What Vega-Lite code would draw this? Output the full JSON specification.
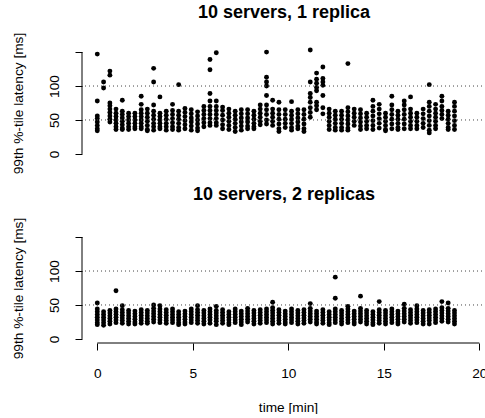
{
  "$schema": "https://vega.github.io/schema/vega-lite/v6.json",
  "background": "white",
  "padding": {"left": 10, "top": 4, "right": 0, "bottom": 0},
  "spacing": 12,
  "config": {
    "view": {"stroke": null},
    "font": "Liberation Sans",
    "axis": {"labelFontSize": 13.7, "titleFontSize": 13.7, "labelColor": "black", "titleColor": "black", "tickColor": "black", "titleFontWeight": "normal"}
  },
  "datasets": {
    "a": [
      {"t":0,"v":147},{"t":0,"v":78},{"t":0,"v":56},{"t":0,"v":52},{"t":0,"v":47},{"t":0,"v":42},{"t":0,"v":37},{"t":0,"v":34},
      {"t":0.33,"v":106},{"t":0.33,"v":97},
      {"t":0.66,"v":122},{"t":0.66,"v":116},{"t":0.66,"v":75},{"t":0.66,"v":71},{"t":0.66,"v":66},{"t":0.66,"v":61},{"t":0.66,"v":56},{"t":0.66,"v":51},{"t":0.66,"v":47},
      {"t":0.98,"v":66},{"t":0.98,"v":60},{"t":0.98,"v":55},{"t":0.98,"v":50},{"t":0.98,"v":45},{"t":0.98,"v":40},{"t":0.98,"v":36},
      {"t":1.31,"v":79},{"t":1.31,"v":63},{"t":1.31,"v":58},{"t":1.31,"v":53},{"t":1.31,"v":48},{"t":1.31,"v":43},{"t":1.31,"v":38},{"t":1.31,"v":36},
      {"t":1.64,"v":60},{"t":1.64,"v":55},{"t":1.64,"v":50},{"t":1.64,"v":45},{"t":1.64,"v":40},{"t":1.64,"v":36},
      {"t":1.97,"v":60},{"t":1.97,"v":55},{"t":1.97,"v":50},{"t":1.97,"v":45},{"t":1.97,"v":40},{"t":1.97,"v":37},
      {"t":2.3,"v":85},{"t":2.3,"v":73},{"t":2.3,"v":65},{"t":2.3,"v":60},{"t":2.3,"v":55},{"t":2.3,"v":50},{"t":2.3,"v":45},{"t":2.3,"v":40},{"t":2.3,"v":37},
      {"t":2.62,"v":66},{"t":2.62,"v":60},{"t":2.62,"v":54},{"t":2.62,"v":48},{"t":2.62,"v":42},{"t":2.62,"v":36},{"t":2.62,"v":34},
      {"t":2.95,"v":126},{"t":2.95,"v":106},{"t":2.95,"v":72},{"t":2.95,"v":63},{"t":2.95,"v":57},{"t":2.95,"v":51},{"t":2.95,"v":45},{"t":2.95,"v":40},{"t":2.95,"v":35},
      {"t":3.28,"v":84},{"t":3.28,"v":60},{"t":3.28,"v":55},{"t":3.28,"v":50},{"t":3.28,"v":45},{"t":3.28,"v":40},{"t":3.28,"v":37},
      {"t":3.61,"v":63},{"t":3.61,"v":57},{"t":3.61,"v":51},{"t":3.61,"v":45},{"t":3.61,"v":40},{"t":3.61,"v":35},
      {"t":3.94,"v":73},{"t":3.94,"v":64},{"t":3.94,"v":58},{"t":3.94,"v":52},{"t":3.94,"v":46},{"t":3.94,"v":40},{"t":3.94,"v":36},
      {"t":4.26,"v":102},{"t":4.26,"v":63},{"t":4.26,"v":57},{"t":4.26,"v":51},{"t":4.26,"v":45},{"t":4.26,"v":39},{"t":4.26,"v":35},
      {"t":4.59,"v":67},{"t":4.59,"v":61},{"t":4.59,"v":55},{"t":4.59,"v":49},{"t":4.59,"v":43},{"t":4.59,"v":37},
      {"t":4.92,"v":65},{"t":4.92,"v":59},{"t":4.92,"v":53},{"t":4.92,"v":47},{"t":4.92,"v":41},{"t":4.92,"v":35},
      {"t":5.25,"v":62},{"t":5.25,"v":56},{"t":5.25,"v":50},{"t":5.25,"v":44},{"t":5.25,"v":38},{"t":5.25,"v":34},
      {"t":5.58,"v":70},{"t":5.58,"v":64},{"t":5.58,"v":58},{"t":5.58,"v":52},{"t":5.58,"v":46},{"t":5.58,"v":40},
      {"t":5.9,"v":139},{"t":5.9,"v":124},{"t":5.9,"v":89},{"t":5.9,"v":78},{"t":5.9,"v":70},{"t":5.9,"v":64},{"t":5.9,"v":58},{"t":5.9,"v":52},{"t":5.9,"v":46},{"t":5.9,"v":42},
      {"t":6.23,"v":149},{"t":6.23,"v":78},{"t":6.23,"v":70},{"t":6.23,"v":64},{"t":6.23,"v":58},{"t":6.23,"v":52},{"t":6.23,"v":46},{"t":6.23,"v":42},
      {"t":6.56,"v":69},{"t":6.56,"v":64},{"t":6.56,"v":57},{"t":6.56,"v":50},{"t":6.56,"v":43},{"t":6.56,"v":37},
      {"t":6.89,"v":66},{"t":6.89,"v":60},{"t":6.89,"v":54},{"t":6.89,"v":48},{"t":6.89,"v":42},{"t":6.89,"v":36},
      {"t":7.22,"v":63},{"t":7.22,"v":57},{"t":7.22,"v":51},{"t":7.22,"v":45},{"t":7.22,"v":39},{"t":7.22,"v":33},
      {"t":7.54,"v":65},{"t":7.54,"v":59},{"t":7.54,"v":53},{"t":7.54,"v":47},{"t":7.54,"v":41},{"t":7.54,"v":35},
      {"t":7.87,"v":65},{"t":7.87,"v":59},{"t":7.87,"v":53},{"t":7.87,"v":47},{"t":7.87,"v":41},{"t":7.87,"v":37},
      {"t":8.2,"v":63},{"t":8.2,"v":57},{"t":8.2,"v":51},{"t":8.2,"v":45},{"t":8.2,"v":40},{"t":8.2,"v":37},
      {"t":8.53,"v":72},{"t":8.53,"v":66},{"t":8.53,"v":60},{"t":8.53,"v":54},{"t":8.53,"v":48},{"t":8.53,"v":43},
      {"t":8.86,"v":150},{"t":8.86,"v":113},{"t":8.86,"v":106},{"t":8.86,"v":100},{"t":8.86,"v":86},{"t":8.86,"v":72},{"t":8.86,"v":65},{"t":8.86,"v":58},{"t":8.86,"v":50},{"t":8.86,"v":44},
      {"t":9.18,"v":79},{"t":9.18,"v":66},{"t":9.18,"v":60},{"t":9.18,"v":54},{"t":9.18,"v":48},{"t":9.18,"v":42},
      {"t":9.51,"v":76},{"t":9.51,"v":65},{"t":9.51,"v":58},{"t":9.51,"v":51},{"t":9.51,"v":44},{"t":9.51,"v":37},{"t":9.51,"v":33},
      {"t":9.84,"v":65},{"t":9.84,"v":58},{"t":9.84,"v":51},{"t":9.84,"v":45},{"t":9.84,"v":39},
      {"t":10.17,"v":77},{"t":10.17,"v":63},{"t":10.17,"v":57},{"t":10.17,"v":51},{"t":10.17,"v":45},{"t":10.17,"v":39},{"t":10.17,"v":35},
      {"t":10.5,"v":65},{"t":10.5,"v":59},{"t":10.5,"v":53},{"t":10.5,"v":47},{"t":10.5,"v":41},{"t":10.5,"v":37},
      {"t":10.82,"v":65},{"t":10.82,"v":58},{"t":10.82,"v":51},{"t":10.82,"v":44},{"t":10.82,"v":37},{"t":10.82,"v":33},
      {"t":11.15,"v":153},{"t":11.15,"v":106},{"t":11.15,"v":89},{"t":11.15,"v":83},{"t":11.15,"v":76},{"t":11.15,"v":68},{"t":11.15,"v":61},{"t":11.15,"v":54},
      {"t":11.48,"v":119},{"t":11.48,"v":110},{"t":11.48,"v":104},{"t":11.48,"v":98},{"t":11.48,"v":93},{"t":11.48,"v":76},{"t":11.48,"v":71},{"t":11.48,"v":65},
      {"t":11.81,"v":128},{"t":11.81,"v":111},{"t":11.81,"v":106},{"t":11.81,"v":101},{"t":11.81,"v":86},{"t":11.81,"v":68},{"t":11.81,"v":59},
      {"t":12.14,"v":66},{"t":12.14,"v":60},{"t":12.14,"v":54},{"t":12.14,"v":48},{"t":12.14,"v":42},{"t":12.14,"v":36},
      {"t":12.46,"v":63},{"t":12.46,"v":57},{"t":12.46,"v":51},{"t":12.46,"v":45},{"t":12.46,"v":39},{"t":12.46,"v":35},
      {"t":12.79,"v":63},{"t":12.79,"v":57},{"t":12.79,"v":51},{"t":12.79,"v":45},{"t":12.79,"v":39},{"t":12.79,"v":35},
      {"t":13.12,"v":133},{"t":13.12,"v":68},{"t":13.12,"v":62},{"t":13.12,"v":56},{"t":13.12,"v":50},{"t":13.12,"v":44},{"t":13.12,"v":38},{"t":13.12,"v":35},
      {"t":13.45,"v":66},{"t":13.45,"v":60},{"t":13.45,"v":54},{"t":13.45,"v":48},{"t":13.45,"v":42},
      {"t":13.78,"v":65},{"t":13.78,"v":59},{"t":13.78,"v":53},{"t":13.78,"v":47},{"t":13.78,"v":41},{"t":13.78,"v":36},
      {"t":14.1,"v":60},{"t":14.1,"v":54},{"t":14.1,"v":48},{"t":14.1,"v":42},{"t":14.1,"v":37},
      {"t":14.43,"v":79},{"t":14.43,"v":70},{"t":14.43,"v":63},{"t":14.43,"v":56},{"t":14.43,"v":49},{"t":14.43,"v":42},{"t":14.43,"v":36},
      {"t":14.76,"v":73},{"t":14.76,"v":66},{"t":14.76,"v":59},{"t":14.76,"v":52},{"t":14.76,"v":45},{"t":14.76,"v":38},
      {"t":15.09,"v":60},{"t":15.09,"v":54},{"t":15.09,"v":48},{"t":15.09,"v":42},{"t":15.09,"v":36},{"t":15.09,"v":34},
      {"t":15.42,"v":85},{"t":15.42,"v":72},{"t":15.42,"v":65},{"t":15.42,"v":58},{"t":15.42,"v":51},{"t":15.42,"v":44},{"t":15.42,"v":37},
      {"t":15.74,"v":63},{"t":15.74,"v":57},{"t":15.74,"v":51},{"t":15.74,"v":45},{"t":15.74,"v":39},{"t":15.74,"v":36},
      {"t":16.07,"v":78},{"t":16.07,"v":72},{"t":16.07,"v":65},{"t":16.07,"v":58},{"t":16.07,"v":51},{"t":16.07,"v":44},{"t":16.07,"v":37},
      {"t":16.4,"v":84},{"t":16.4,"v":66},{"t":16.4,"v":60},{"t":16.4,"v":54},{"t":16.4,"v":48},{"t":16.4,"v":42},{"t":16.4,"v":37},
      {"t":16.73,"v":60},{"t":16.73,"v":54},{"t":16.73,"v":48},{"t":16.73,"v":42},{"t":16.73,"v":37},
      {"t":17.06,"v":66},{"t":17.06,"v":59},{"t":17.06,"v":52},{"t":17.06,"v":45},{"t":17.06,"v":39},
      {"t":17.38,"v":102},{"t":17.38,"v":76},{"t":17.38,"v":70},{"t":17.38,"v":63},{"t":17.38,"v":56},{"t":17.38,"v":49},{"t":17.38,"v":42},{"t":17.38,"v":35},{"t":17.38,"v":31},
      {"t":17.71,"v":73},{"t":17.71,"v":66},{"t":17.71,"v":60},{"t":17.71,"v":54},{"t":17.71,"v":48},{"t":17.71,"v":42},{"t":17.71,"v":37},
      {"t":18.04,"v":85},{"t":18.04,"v":78},{"t":18.04,"v":70},{"t":18.04,"v":64},{"t":18.04,"v":58},{"t":18.04,"v":52},
      {"t":18.37,"v":63},{"t":18.37,"v":57},{"t":18.37,"v":51},{"t":18.37,"v":45},{"t":18.37,"v":39},{"t":18.37,"v":36},
      {"t":18.7,"v":76},{"t":18.7,"v":70},{"t":18.7,"v":63},{"t":18.7,"v":56},{"t":18.7,"v":49},{"t":18.7,"v":42},{"t":18.7,"v":36}
    ],
    "b": [
      {"t":0,"v":53},{"t":0,"v":44},{"t":0,"v":40},{"t":0,"v":36},{"t":0,"v":32},{"t":0,"v":28},{"t":0,"v":24},{"t":0,"v":21},
      {"t":0.33,"v":40},{"t":0.33,"v":36},{"t":0.33,"v":32},{"t":0.33,"v":28},{"t":0.33,"v":24},{"t":0.33,"v":20},
      {"t":0.66,"v":42},{"t":0.66,"v":38},{"t":0.66,"v":34},{"t":0.66,"v":30},{"t":0.66,"v":26},{"t":0.66,"v":22},
      {"t":0.98,"v":71},{"t":0.98,"v":44},{"t":0.98,"v":40},{"t":0.98,"v":36},{"t":0.98,"v":32},{"t":0.98,"v":28},{"t":0.98,"v":24},
      {"t":1.31,"v":49},{"t":1.31,"v":43},{"t":1.31,"v":39},{"t":1.31,"v":35},{"t":1.31,"v":31},{"t":1.31,"v":27},{"t":1.31,"v":23},
      {"t":1.64,"v":42},{"t":1.64,"v":38},{"t":1.64,"v":34},{"t":1.64,"v":30},{"t":1.64,"v":26},{"t":1.64,"v":22},
      {"t":1.97,"v":41},{"t":1.97,"v":37},{"t":1.97,"v":33},{"t":1.97,"v":29},{"t":1.97,"v":25},{"t":1.97,"v":22},
      {"t":2.3,"v":43},{"t":2.3,"v":39},{"t":2.3,"v":35},{"t":2.3,"v":31},{"t":2.3,"v":27},{"t":2.3,"v":23},
      {"t":2.62,"v":42},{"t":2.62,"v":38},{"t":2.62,"v":34},{"t":2.62,"v":30},{"t":2.62,"v":26},{"t":2.62,"v":23},
      {"t":2.95,"v":50},{"t":2.95,"v":45},{"t":2.95,"v":41},{"t":2.95,"v":37},{"t":2.95,"v":33},{"t":2.95,"v":29},{"t":2.95,"v":25},
      {"t":3.28,"v":49},{"t":3.28,"v":44},{"t":3.28,"v":40},{"t":3.28,"v":36},{"t":3.28,"v":32},{"t":3.28,"v":28},{"t":3.28,"v":24},
      {"t":3.61,"v":43},{"t":3.61,"v":39},{"t":3.61,"v":35},{"t":3.61,"v":31},{"t":3.61,"v":27},{"t":3.61,"v":23},
      {"t":3.94,"v":44},{"t":3.94,"v":40},{"t":3.94,"v":36},{"t":3.94,"v":32},{"t":3.94,"v":28},{"t":3.94,"v":24},
      {"t":4.26,"v":40},{"t":4.26,"v":36},{"t":4.26,"v":32},{"t":4.26,"v":28},{"t":4.26,"v":24},{"t":4.26,"v":21},
      {"t":4.59,"v":41},{"t":4.59,"v":37},{"t":4.59,"v":33},{"t":4.59,"v":29},{"t":4.59,"v":25},{"t":4.59,"v":22},
      {"t":4.92,"v":44},{"t":4.92,"v":40},{"t":4.92,"v":36},{"t":4.92,"v":32},{"t":4.92,"v":28},{"t":4.92,"v":24},
      {"t":5.25,"v":49},{"t":5.25,"v":43},{"t":5.25,"v":39},{"t":5.25,"v":35},{"t":5.25,"v":31},{"t":5.25,"v":27},{"t":5.25,"v":23},
      {"t":5.58,"v":42},{"t":5.58,"v":38},{"t":5.58,"v":34},{"t":5.58,"v":30},{"t":5.58,"v":26},{"t":5.58,"v":22},
      {"t":5.9,"v":44},{"t":5.9,"v":40},{"t":5.9,"v":36},{"t":5.9,"v":32},{"t":5.9,"v":28},{"t":5.9,"v":23},
      {"t":6.23,"v":48},{"t":6.23,"v":42},{"t":6.23,"v":38},{"t":6.23,"v":34},{"t":6.23,"v":30},{"t":6.23,"v":26},{"t":6.23,"v":21},
      {"t":6.56,"v":43},{"t":6.56,"v":39},{"t":6.56,"v":35},{"t":6.56,"v":31},{"t":6.56,"v":27},{"t":6.56,"v":23},
      {"t":6.89,"v":40},{"t":6.89,"v":36},{"t":6.89,"v":32},{"t":6.89,"v":28},{"t":6.89,"v":24},{"t":6.89,"v":21},
      {"t":7.22,"v":44},{"t":7.22,"v":40},{"t":7.22,"v":36},{"t":7.22,"v":32},{"t":7.22,"v":28},{"t":7.22,"v":24},
      {"t":7.54,"v":41},{"t":7.54,"v":37},{"t":7.54,"v":33},{"t":7.54,"v":29},{"t":7.54,"v":25},{"t":7.54,"v":21},
      {"t":7.87,"v":45},{"t":7.87,"v":41},{"t":7.87,"v":37},{"t":7.87,"v":33},{"t":7.87,"v":29},{"t":7.87,"v":25},
      {"t":8.2,"v":42},{"t":8.2,"v":38},{"t":8.2,"v":34},{"t":8.2,"v":30},{"t":8.2,"v":26},{"t":8.2,"v":22},
      {"t":8.53,"v":43},{"t":8.53,"v":39},{"t":8.53,"v":35},{"t":8.53,"v":31},{"t":8.53,"v":27},{"t":8.53,"v":23},
      {"t":8.86,"v":44},{"t":8.86,"v":40},{"t":8.86,"v":36},{"t":8.86,"v":32},{"t":8.86,"v":28},{"t":8.86,"v":24},
      {"t":9.18,"v":54},{"t":9.18,"v":46},{"t":9.18,"v":42},{"t":9.18,"v":38},{"t":9.18,"v":34},{"t":9.18,"v":30},{"t":9.18,"v":26},{"t":9.18,"v":22},
      {"t":9.51,"v":43},{"t":9.51,"v":39},{"t":9.51,"v":35},{"t":9.51,"v":31},{"t":9.51,"v":27},{"t":9.51,"v":23},
      {"t":9.84,"v":41},{"t":9.84,"v":37},{"t":9.84,"v":33},{"t":9.84,"v":29},{"t":9.84,"v":25},{"t":9.84,"v":22},
      {"t":10.17,"v":44},{"t":10.17,"v":40},{"t":10.17,"v":36},{"t":10.17,"v":32},{"t":10.17,"v":28},{"t":10.17,"v":24},
      {"t":10.5,"v":42},{"t":10.5,"v":38},{"t":10.5,"v":34},{"t":10.5,"v":30},{"t":10.5,"v":26},{"t":10.5,"v":22},
      {"t":10.82,"v":43},{"t":10.82,"v":39},{"t":10.82,"v":35},{"t":10.82,"v":31},{"t":10.82,"v":27},{"t":10.82,"v":23},
      {"t":11.15,"v":52},{"t":11.15,"v":45},{"t":11.15,"v":41},{"t":11.15,"v":37},{"t":11.15,"v":33},{"t":11.15,"v":29},{"t":11.15,"v":25},
      {"t":11.48,"v":41},{"t":11.48,"v":37},{"t":11.48,"v":33},{"t":11.48,"v":29},{"t":11.48,"v":25},{"t":11.48,"v":22},
      {"t":11.81,"v":43},{"t":11.81,"v":39},{"t":11.81,"v":35},{"t":11.81,"v":31},{"t":11.81,"v":27},{"t":11.81,"v":23},
      {"t":12.14,"v":40},{"t":12.14,"v":36},{"t":12.14,"v":32},{"t":12.14,"v":28},{"t":12.14,"v":24},{"t":12.14,"v":21},
      {"t":12.46,"v":91},{"t":12.46,"v":60},{"t":12.46,"v":44},{"t":12.46,"v":40},{"t":12.46,"v":36},{"t":12.46,"v":32},{"t":12.46,"v":28},{"t":12.46,"v":24},
      {"t":12.79,"v":42},{"t":12.79,"v":38},{"t":12.79,"v":34},{"t":12.79,"v":30},{"t":12.79,"v":26},{"t":12.79,"v":22},
      {"t":13.12,"v":48},{"t":13.12,"v":44},{"t":13.12,"v":40},{"t":13.12,"v":36},{"t":13.12,"v":32},{"t":13.12,"v":28},{"t":13.12,"v":24},
      {"t":13.45,"v":41},{"t":13.45,"v":37},{"t":13.45,"v":33},{"t":13.45,"v":29},{"t":13.45,"v":25},{"t":13.45,"v":22},
      {"t":13.78,"v":63},{"t":13.78,"v":45},{"t":13.78,"v":41},{"t":13.78,"v":37},{"t":13.78,"v":33},{"t":13.78,"v":29},{"t":13.78,"v":25},
      {"t":14.1,"v":42},{"t":14.1,"v":38},{"t":14.1,"v":34},{"t":14.1,"v":30},{"t":14.1,"v":26},{"t":14.1,"v":22},
      {"t":14.43,"v":40},{"t":14.43,"v":36},{"t":14.43,"v":32},{"t":14.43,"v":28},{"t":14.43,"v":24},{"t":14.43,"v":21},
      {"t":14.76,"v":55},{"t":14.76,"v":43},{"t":14.76,"v":39},{"t":14.76,"v":35},{"t":14.76,"v":31},{"t":14.76,"v":27},{"t":14.76,"v":23},
      {"t":15.09,"v":42},{"t":15.09,"v":38},{"t":15.09,"v":34},{"t":15.09,"v":30},{"t":15.09,"v":26},{"t":15.09,"v":22},
      {"t":15.42,"v":44},{"t":15.42,"v":40},{"t":15.42,"v":36},{"t":15.42,"v":32},{"t":15.42,"v":28},{"t":15.42,"v":24},
      {"t":15.74,"v":41},{"t":15.74,"v":37},{"t":15.74,"v":33},{"t":15.74,"v":29},{"t":15.74,"v":25},{"t":15.74,"v":22},
      {"t":16.07,"v":51},{"t":16.07,"v":45},{"t":16.07,"v":41},{"t":16.07,"v":37},{"t":16.07,"v":33},{"t":16.07,"v":29},{"t":16.07,"v":25},
      {"t":16.4,"v":43},{"t":16.4,"v":39},{"t":16.4,"v":35},{"t":16.4,"v":31},{"t":16.4,"v":27},{"t":16.4,"v":23},
      {"t":16.73,"v":49},{"t":16.73,"v":44},{"t":16.73,"v":40},{"t":16.73,"v":36},{"t":16.73,"v":32},{"t":16.73,"v":28},{"t":16.73,"v":24},
      {"t":17.06,"v":42},{"t":17.06,"v":38},{"t":17.06,"v":34},{"t":17.06,"v":30},{"t":17.06,"v":26},{"t":17.06,"v":22},
      {"t":17.38,"v":43},{"t":17.38,"v":39},{"t":17.38,"v":35},{"t":17.38,"v":31},{"t":17.38,"v":27},{"t":17.38,"v":22},
      {"t":17.71,"v":44},{"t":17.71,"v":40},{"t":17.71,"v":36},{"t":17.71,"v":32},{"t":17.71,"v":28},{"t":17.71,"v":24},
      {"t":18.04,"v":55},{"t":18.04,"v":46},{"t":18.04,"v":42},{"t":18.04,"v":38},{"t":18.04,"v":34},{"t":18.04,"v":30},{"t":18.04,"v":26},
      {"t":18.37,"v":53},{"t":18.37,"v":45},{"t":18.37,"v":41},{"t":18.37,"v":37},{"t":18.37,"v":33},{"t":18.37,"v":29},{"t":18.37,"v":25},
      {"t":18.7,"v":42},{"t":18.7,"v":38},{"t":18.7,"v":34},{"t":18.7,"v":30},{"t":18.7,"v":26},{"t":18.7,"v":22}
    ]
  },
  "vconcat": [
    {
      "width": 404,
      "height": 110,
      "title": {"text": "10 servers, 1 replica", "fontSize": 18, "fontWeight": "bold", "color": "black", "anchor": "middle", "baseline": "alphabetic", "offset": -4},
      "resolve": {"axis": {"x": "independent", "y": "independent"}},
      "layer": [
        {
          "data": {"name": "a"},
          "mark": {"type": "circle", "color": "black", "opacity": 1, "size": 24},
          "encoding": {
            "x": {"field": "t", "type": "quantitative", "scale": {"domain": [-0.8, 20.35], "nice": false, "zero": false}, "axis": null},
            "y": {
              "field": "v", "type": "quantitative",
              "scale": {"domain": [-6, 156], "nice": false, "zero": false},
              "axis": {
                "values": [0, 50, 100, 150], "labelExpr": "datum.value == 150 ? '' : datum.label",
                "labelAngle": -90, "labelAlign": "center", "labelBaseline": "bottom", "labelPadding": 14,
                "labelFlush": false, "labelOverlap": false,
                "tickSize": 7, "domain": false, "grid": false,
                "title": "99th %-tile latency [ms]", "titlePadding": 22
              }
            }
          }
        },
        {
          "data": {"values": [{"h": 50}, {"h": 100}]},
          "mark": {"type": "rule", "color": "#444", "strokeDash": [1, 3], "strokeWidth": 1},
          "encoding": {
            "y": {"field": "h", "type": "quantitative", "axis": null}
          }
        },
        {
          "data": {"values": [{}]},
          "mark": {"type": "rule", "color": "black", "strokeWidth": 1},
          "encoding": {
            "x": {"datum": -0.8, "type": "quantitative", "axis": null},
            "y": {"datum": 0, "type": "quantitative", "axis": null},
            "y2": {"datum": 150}
          }
        }
      ]
    },
    {
      "width": 404,
      "height": 110,
      "title": {"text": "10 servers, 2 replicas", "fontSize": 18, "fontWeight": "bold", "color": "black", "anchor": "middle", "baseline": "alphabetic", "offset": -1},
      "resolve": {"axis": {"x": "independent", "y": "independent"}},
      "layer": [
        {
          "data": {"name": "b"},
          "mark": {"type": "circle", "color": "black", "opacity": 1, "size": 24},
          "encoding": {
            "x": {
              "field": "t", "type": "quantitative",
              "scale": {"domain": [-0.8, 20.35], "nice": false, "zero": false},
              "axis": {
                "values": [0, 5, 10, 15, 20], "format": "d", "labelAngle": 0, "labelPadding": 16,
                "labelFlush": false, "labelOverlap": false,
                "tickSize": 7, "domain": false, "grid": false,
                "title": "time [min]", "titleX": 206, "titleY": 68, "titleBaseline": "alphabetic"
              }
            },
            "y": {
              "field": "v", "type": "quantitative",
              "scale": {"domain": [-6, 156], "nice": false, "zero": false},
              "axis": {
                "values": [0, 50, 100, 150], "labelExpr": "datum.value == 150 ? '' : datum.label",
                "labelAngle": -90, "labelAlign": "center", "labelBaseline": "bottom", "labelPadding": 14,
                "labelFlush": false, "labelOverlap": false,
                "tickSize": 7, "domain": false, "grid": false,
                "title": "99th %-tile latency [ms]", "titlePadding": 22
              }
            }
          }
        },
        {
          "data": {"values": [{"h": 50}, {"h": 100}]},
          "mark": {"type": "rule", "color": "#444", "strokeDash": [1, 3], "strokeWidth": 1},
          "encoding": {
            "y": {"field": "h", "type": "quantitative", "axis": null}
          }
        },
        {
          "data": {"values": [{}]},
          "mark": {"type": "rule", "color": "black", "strokeWidth": 1},
          "encoding": {
            "x": {"datum": -0.8, "type": "quantitative", "axis": null},
            "y": {"datum": 0, "type": "quantitative", "axis": null},
            "y2": {"datum": 150}
          }
        },
        {
          "data": {"values": [{}]},
          "mark": {"type": "rule", "color": "black", "strokeWidth": 1},
          "encoding": {
            "x": {"datum": 0, "type": "quantitative", "axis": null},
            "x2": {"datum": 20},
            "y": {"datum": -6, "type": "quantitative", "axis": null}
          }
        }
      ]
    }
  ]
}
